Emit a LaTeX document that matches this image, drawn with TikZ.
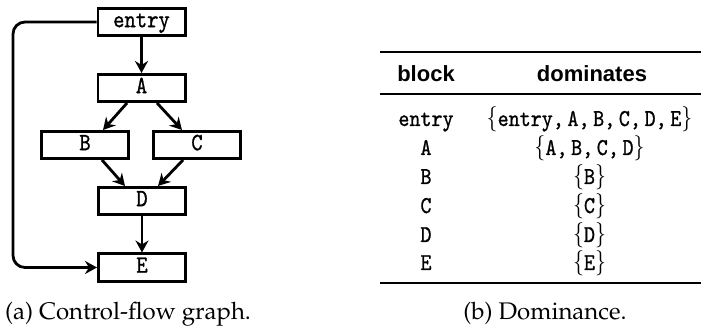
\documentclass[tikz,border=0pt]{standalone}
\usepackage{fontspec}
\usepackage[T1,TU]{fontenc}
\usepackage{amsmath}
\usepackage{graphicx}
\usetikzlibrary{arrows.meta}
\newfontfamily\hdrfont{Liberation Sans}
\newfontface\monof{Latin Modern Mono}[FakeBold=1.0]
\newcommand\mt[1]{\text{\monof #1}}
\newcommand\tall[1]{\scalebox{1}[1.15]{#1}}
\newcommand\capfont{\fontencoding{T1}\fontfamily{ppl}\fontsize{12}{14}\selectfont}
\tikzset{
  blk/.style={draw, line width=1.4pt, minimum width=43.6pt, minimum height=13.6pt,
    inner sep=0pt, font=\monof\fontsize{10.8}{12}\selectfont, text height=7.4pt, text depth=2.2pt},
  arr/.style={line width=1.4pt, -{Stealth[length=6pt,width=6.5pt,inset=2pt]}},
  hdr/.style={anchor=base, inner sep=0pt, font=\hdrfont\bfseries\fontsize{11}{13}\selectfont},
  cell/.style={anchor=base, inner sep=0pt, font=\monof\fontsize{10.5}{12}\selectfont},
  captxt/.style={anchor=base, inner sep=0pt, font=\capfont},
}
\begin{document}
\begin{tikzpicture}[x=0.5pt, y=-0.5pt]
\useasboundingbox (0,0) rectangle (701,331);
% graph
\node[blk] (entry) at (141.5,22) {\tall{entry}};
\node[blk] (A) at (141.5,88) {\tall{A}};
\node[blk] (B) at (85,145) {\tall{B}};
\node[blk] (C) at (197,145) {\tall{C}};
\node[blk] (D) at (142,201) {\tall{D}};
\node[blk] (E) at (142,267.5) {\tall{E}};
\coordinate (lt) at (13,22);
\coordinate (lb) at (13,267.5);
\draw[arr] (entry) -- (A);
\draw[arr] ([xshift=-7.25pt]A.south) -- ([xshift=9pt]B.north);
\draw[arr] ([xshift=7.75pt]A.south) -- ([xshift=-7.5pt]C.north);
\draw[arr] ([xshift=8.5pt]B.south) -- ([xshift=-8.5pt]D.north);
\draw[arr] ([xshift=-7pt]C.south) -- ([xshift=8pt]D.north);
\draw[arr] (D) -- (E);
\draw[arr, rounded corners=6pt] (entry.west) -- (lt) -- (lb) -- (E.west);
\node[captxt] (capa) at (128,319) {(a) Control-flow graph.};
% table
\coordinate (r1l) at (380,52); \coordinate (r1r) at (701,52);
\coordinate (r2l) at (380,94); \coordinate (r2r) at (701,94);
\coordinate (r3l) at (380,283); \coordinate (r3r) at (701,283);
\draw[line width=1pt] (r1l) -- (r1r);
\draw[line width=0.6pt] (r2l) -- (r2r);
\draw[line width=1pt] (r3l) -- (r3r);
\node[hdr] (h1) at (426,82) {block};
\node[hdr] (h2) at (592,82) {dominates};
\node[cell] (b1) at (426,126) {\tall{entry}};
\node[cell] (b2) at (426,155) {\tall{A}};
\node[cell] (b3) at (426,184) {\tall{B}};
\node[cell] (b4) at (426,213) {\tall{C}};
\node[cell] (b5) at (426,242) {\tall{D}};
\node[cell] (b6) at (426,270) {\tall{E}};
\node[cell] (d1) at (589.5,126) {\tall{$\{\mt{entry,}\,\mt{A,}\,\mt{B,}\,\mt{C,}\,\mt{D,}\,\mt{E}\}$}};
\node[cell] (d2) at (589.5,155) {\tall{$\{\mt{A,}\,\mt{B,}\,\mt{C,}\,\mt{D}\}$}};
\node[cell] (d3) at (589.5,184) {\tall{$\{\mt{B}\}$}};
\node[cell] (d4) at (589.5,213) {\tall{$\{\mt{C}\}$}};
\node[cell] (d5) at (589.5,242) {\tall{$\{\mt{D}\}$}};
\node[cell] (d6) at (589.5,270) {\tall{$\{\mt{E}\}$}};
\node[captxt] (capb) at (545,319) {(b) Dominance.};
\end{tikzpicture}
\end{document}
